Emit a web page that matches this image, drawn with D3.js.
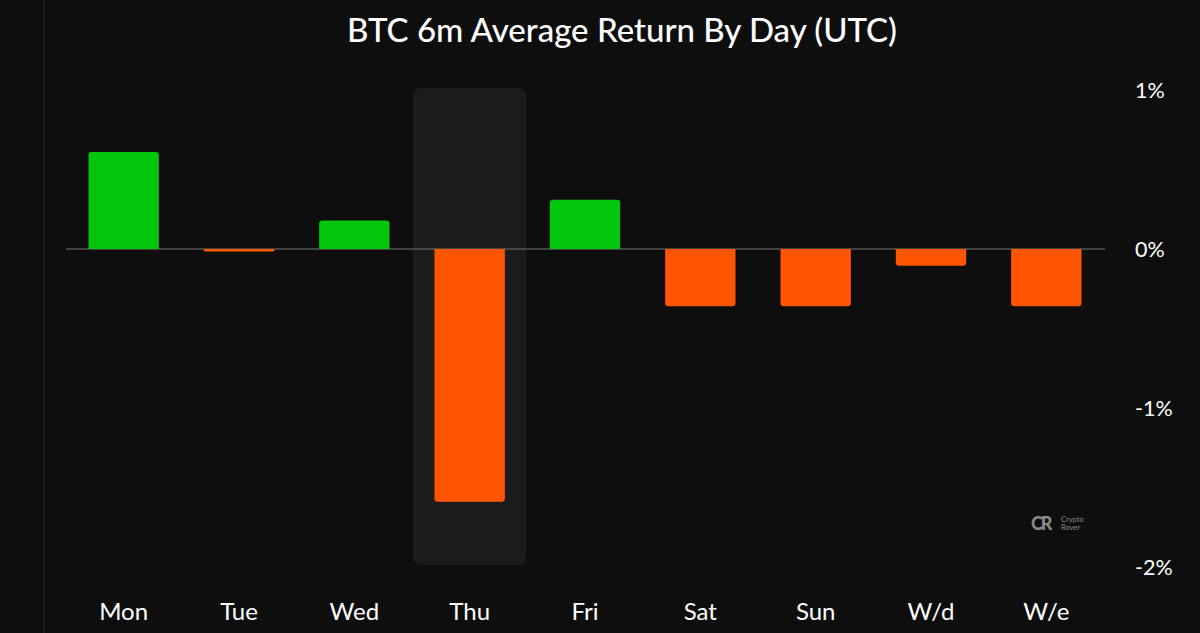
<!DOCTYPE html>
<html>
<head>
<meta charset="utf-8">
<script src="https://cdn.jsdelivr.net/npm/d3@7"></script>
<style>
  html, body { margin: 0; padding: 0; background: #0e0e0e; }
  svg { display: block; }
</style>
</head>
<body>
<div id="chart"></div>
<script>
// Data
const days = ['Mon', 'Tue', 'Wed', 'Thu', 'Fri', 'Sat', 'Sun', 'W/d', 'W/e'];
const returns = [0.61, -0.015, 0.18, -1.59, 0.31, -0.36, -0.36, -0.105, -0.36];
const yTicks = [1, 0, -1, -2];
const highlightDay = 'Thu';

const width = 1200;
const height = 633;

const svg = d3.select('#chart')
  .append('svg')
  .attr('width', width)
  .attr('height', height);

svg.append('rect')
  .attr('width', width)
  .attr('height', height)
  .attr('fill', '#0e0e0e');

// faint left border line
svg.append('line')
  .attr('x1', 44).attr('x2', 44)
  .attr('y1', 0).attr('y2', height)
  .attr('stroke', '#262626')
  .attr('stroke-width', 1);

const x = d3.scaleBand()
  .domain(days)
  .range([66, 1104])
  .paddingInner(0.39)
  .paddingOuter(0.195);

const y = d3.scaleLinear()
  .domain([-2, 1])
  .range([567, 90]);

// title
svg.append('text')
  .attr('x', 622)
  .attr('y', 42)
  .attr('text-anchor', 'middle')
  .attr('font-family', 'Lato, sans-serif')
  .attr('font-weight', 500)
  .attr('font-size', 33)
  .attr('fill', '#ffffff')
  .text('BTC 6m Average Return By Day (UTC)');

// highlight behind Thursday
const step = x.step();
svg.append('rect')
  .attr('x', x(highlightDay) + x.bandwidth() / 2 - step / 2 + 1)
  .attr('y', 88)
  .attr('width', step - 2)
  .attr('height', 565 - 88)
  .attr('rx', 8)
  .attr('fill', '#1c1c1c');

// zero line
svg.append('line')
  .attr('x1', 66).attr('x2', 1105)
  .attr('y1', y(0)).attr('y2', y(0))
  .attr('stroke', '#555555')
  .attr('stroke-width', 1.5);

// bars with rounded far end
function barPath(d, i) {
  const x0 = x(days[i]);
  const w = x.bandwidth();
  const y0 = y(0);
  const y1 = y(d);
  const h = Math.abs(y1 - y0);
  const r = Math.min(3, h / 2);
  if (d >= 0) {
    return `M${x0},${y0} V${y1 + r} Q${x0},${y1} ${x0 + r},${y1} H${x0 + w - r} Q${x0 + w},${y1} ${x0 + w},${y1 + r} V${y0} Z`;
  }
  return `M${x0},${y0} V${y1 - r} Q${x0},${y1} ${x0 + r},${y1} H${x0 + w - r} Q${x0 + w},${y1} ${x0 + w},${y1 - r} V${y0} Z`;
}

svg.append('g')
  .selectAll('path')
  .data(returns)
  .join('path')
  .attr('d', (d, i) => barPath(d, i))
  .attr('fill', d => d >= 0 ? '#03c60d' : '#ff5500');

// x labels
svg.append('g')
  .selectAll('text')
  .data(days)
  .join('text')
  .attr('x', d => x(d) + x.bandwidth() / 2)
  .attr('y', 620)
  .attr('text-anchor', 'middle')
  .attr('font-family', 'Lato, sans-serif')
  .attr('font-size', 24)
  .attr('fill', '#ffffff')
  .text(d => d);

// y labels on the right
svg.append('g')
  .selectAll('text')
  .data(yTicks)
  .join('text')
  .attr('x', 1135)
  .attr('y', d => y(d))
  .attr('dy', '0.35em')
  .attr('font-family', 'Lato, sans-serif')
  .attr('font-size', 21.5)
  .attr('fill', '#ffffff')
  .text(d => d + '%');

// watermark
const logo = svg.append('g').attr('fill', '#8a8a8a');
logo.append('text')
  .attr('x', 1031).attr('y', 530)
  .attr('font-family', 'Lato, sans-serif')
  .attr('font-weight', 900)
  .attr('font-size', 18)
  .attr('letter-spacing', -2)
  .text('CR');
logo.append('text')
  .attr('x', 1061).attr('y', 522)
  .attr('font-family', 'Lato, sans-serif')
  .attr('font-size', 7.5)
  .text('Crypto');
logo.append('text')
  .attr('x', 1061).attr('y', 530)
  .attr('font-family', 'Lato, sans-serif')
  .attr('font-size', 7.5)
  .text('Rover');
</script>
</body>
</html>
